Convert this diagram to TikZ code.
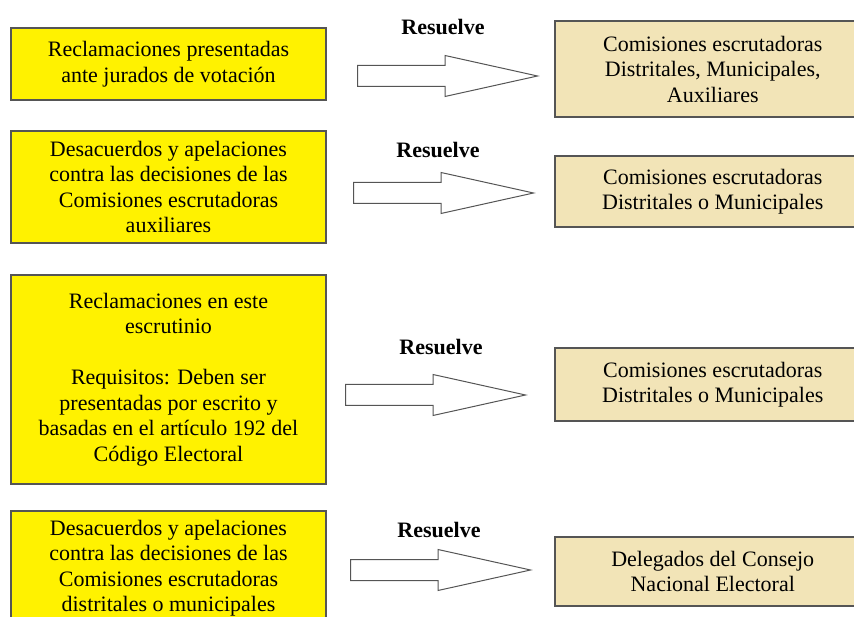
\documentclass[tikz,border=0pt]{standalone}
\usepackage{fontspec}
\setmainfont{Liberation Serif}
\usetikzlibrary{positioning,shapes.arrows}
\definecolor{reclamo}{RGB}{255,242,0}
\definecolor{decide}{RGB}{242,228,183}
\definecolor{borde}{RGB}{85,85,85}
\newcommand{\txt}{\rmfamily\fontsize{22}{25.5}\selectfont}

\begin{document}
\begin{tikzpicture}[x=1pt,y=1pt,
    caso/.style={fill=reclamo,draw=borde,line width=1.5pt,align=center,font=\txt,minimum width=315pt,inner sep=0pt},
    resol/.style={fill=decide,draw=borde,line width=1.5pt,align=center,font=\txt,minimum width=316pt,inner sep=0pt,anchor=west},
    flecha/.style={single arrow,draw=borde,fill=white,line width=1pt,minimum height=180pt,minimum width=40pt,
                   single arrow head extend=10pt,single arrow tip angle=25,inner xsep=0pt,inner ysep=10pt,anchor=tail},
    verbo/.style={font=\txt\bfseries}]
%
\useasboundingbox (0,0) rectangle (854,616);
\clip (0,0) rectangle (854,616);
   \node[caso,minimum height=72pt]   (Q1) at (168.5,552)   {Reclamaciones presentadas\\ ante jurados de votación};
   \node[caso,minimum height=112pt]  (Q2) at (168.5,429)   {Desacuerdos y apelaciones\\ contra las decisiones de las\\ Comisiones escrutadoras\\ auxiliares};
   \node[caso,minimum height=209pt]  (Q3) at (168.5,236.5) {Reclamaciones en este\\ escrutinio\\[25.5pt] Requisitos: Deben ser\\ presentadas por escrito y\\ basadas en el artículo 192 del\\ Código Electoral};
   \node[caso,minimum height=114pt]  (Q4) at (168.5,48)    {Desacuerdos y apelaciones\\ contra las decisiones de las\\ Comisiones escrutadoras\\ distritales o municipales};
%
   \node[resol,minimum height=96pt]  (R1) at (554,547)   {Comisiones escrutadoras\\ Distritales, Municipales,\\ Auxiliares};
   \node[resol,minimum height=71pt]  (R2) at (554,424.5) {Comisiones escrutadoras\\ Distritales o Municipales};
   \node[resol,minimum height=73pt]  (R3) at (554,231.5) {Comisiones escrutadoras\\ Distritales o Municipales};
   \node[resol,minimum height=69pt]  (R4) at (554,44.5)  {Delegados del Consejo\\ Nacional Electoral};
%
   \node[flecha] (A1) at (357,540) {};
   \node[flecha] (A2) at (353,423) {};
   \node[flecha] (A3) at (345,221) {};
   \node[flecha] (A4) at (350,46)  {};
%
   \node[verbo] (L1) at (443,589) {Resuelve};
   \node[verbo] (L2) at (438,466) {Resuelve};
   \node[verbo] (L3) at (441,269) {Resuelve};
   \node[verbo] (L4) at (439,86)  {Resuelve};
\end{tikzpicture}
\end{document}
